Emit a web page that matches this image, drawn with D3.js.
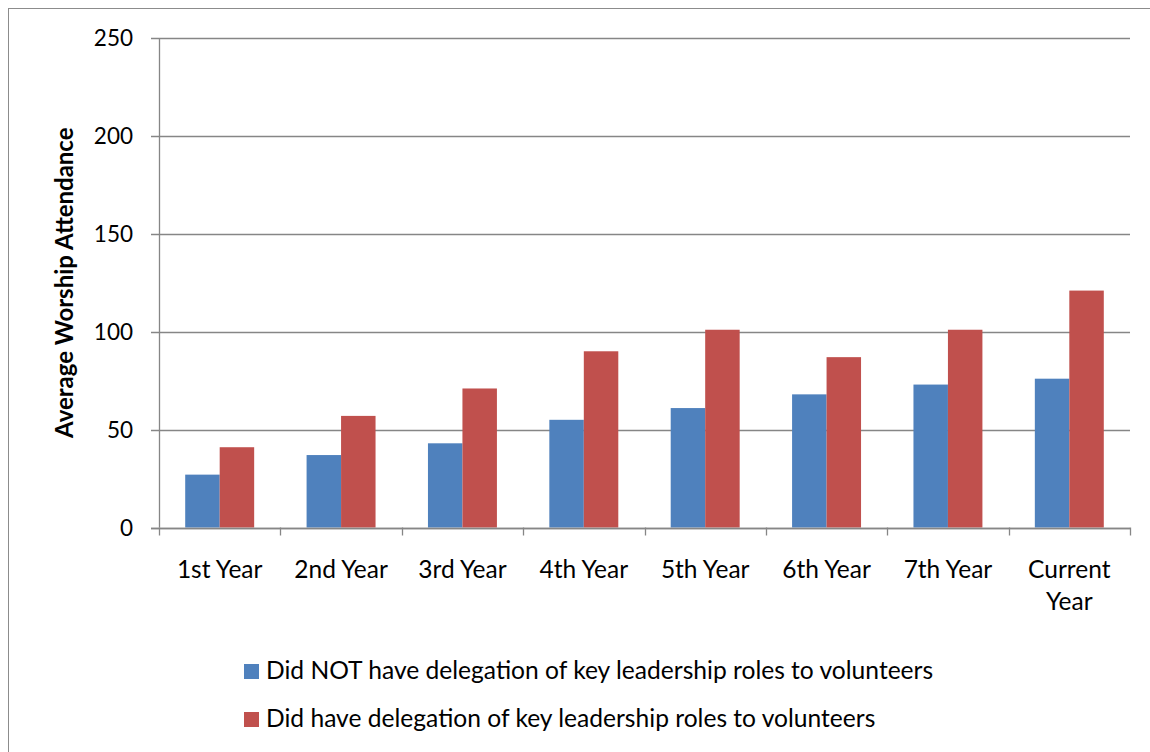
<!DOCTYPE html>
<html><head><meta charset="utf-8">
<script src="https://cdn.jsdelivr.net/npm/d3@7"></script>
<style>body{margin:0;background:#fff}svg{display:block}</style>
</head><body>
<svg id="c" width="1150" height="752"></svg>
<script>
const categories = ["1st Year","2nd Year","3rd Year","4th Year","5th Year","6th Year","7th Year","Current Year"];
const seriesNames = ["Did NOT have delegation of key leadership roles to volunteers","Did have delegation of key leadership roles to volunteers"];
const notDelegated = [27,37,43,55,61,68,73,76];
const delegated = [41,57,71,90,101,87,101,121];
const yTicks = [0,50,100,150,200,250];
const yTitle = "Average Worship Attendance";

const colors = ["#4F81BD","#C0504D"];
const FONT = "Lato, 'Open Sans', sans-serif";
const svg = d3.select("#c");
const L = 159, R = 1130, T = 38, B = 527.5;

svg.append("rect").attr("x",8.5).attr("y",8.5).attr("width",1200).attr("height",800)
  .attr("fill","#fff").attr("stroke","#8c8c8c").attr("stroke-width",1);

const x = d3.scaleBand().domain(categories).range([L,R]).paddingInner(0).paddingOuter(0);
const xs = d3.scaleBand().domain([0,1]).range([0,x.bandwidth()]).paddingInner(0).paddingOuter(0.76);
const y = d3.scaleLinear().domain([0,250]).range([B,T]);

// gridlines
svg.append("g").selectAll("line").data(yTicks).join("line")
  .attr("x1",151).attr("x2",R).attr("y1",d=>Math.round(y(d))+0.5).attr("y2",d=>Math.round(y(d))+0.5)
  .attr("stroke","#868686").attr("stroke-width",1.3);

// y axis labels
svg.append("g").selectAll("text").data(yTicks).join("text")
  .attr("x",133).attr("y",d=>y(d)).attr("dy","0.36em").attr("text-anchor","end")
  .attr("font-family",FONT).attr("font-size",22.5).attr("fill","#000").text(d=>d);

// bars
const data = categories.map((c,i)=>({c, v:[notDelegated[i], delegated[i]]}));
const g = svg.append("g");
data.forEach(d=>{
  d.v.forEach((v,s)=>{
    g.append("rect").attr("x",x(d.c)+xs(s)).attr("width",xs.bandwidth())
      .attr("y",y(v)).attr("height",B-y(v)).attr("fill",colors[s]);
  });
});

// axes lines
svg.append("line").attr("x1",L+0.5).attr("x2",L+0.5).attr("y1",T).attr("y2",B).attr("stroke","#868686").attr("stroke-width",1.3);
svg.append("line").attr("x1",151).attr("x2",R).attr("y1",Math.round(B)+0.5).attr("y2",Math.round(B)+0.5).attr("stroke","#868686").attr("stroke-width",1.3);
const bounds = categories.map(c=>x(c)).concat([R]);
svg.append("g").selectAll("line").data(bounds).join("line")
  .attr("x1",d=>Math.round(d)+0.5).attr("x2",d=>Math.round(d)+0.5).attr("y1",B).attr("y2",B+8)
  .attr("stroke","#868686").attr("stroke-width",1.3);

// x labels with wrapping
const xl = svg.append("g").attr("font-family",FONT).attr("font-size",24.5).attr("fill","#000");
categories.forEach(c=>{
  const t = xl.append("text").attr("x",x(c)+x.bandwidth()/2).attr("y",578).attr("text-anchor","middle").text(c);
  if (t.node().getComputedTextLength() > x.bandwidth()-8) {
    const words = c.split(" ");
    t.text(null);
    words.forEach((w,i)=>t.append("tspan").attr("x",x(c)+x.bandwidth()/2).attr("dy", i? 32:0).text(w));
  }
});

// y title
svg.append("text").attr("transform",`translate(73,${(T+B)/2}) rotate(-90)`).attr("text-anchor","middle")
  .attr("font-family",FONT).attr("font-weight","bold").attr("font-size",24).text(yTitle);

// legend
const lg = svg.append("g");
seriesNames.forEach((n,i)=>{
  const yy = 664 + i*48;
  lg.append("rect").attr("x",244).attr("y",yy).attr("width",15).attr("height",15).attr("fill",colors[i]);
  lg.append("text").attr("x",266).attr("y",yy+14.5).attr("font-family",FONT).attr("font-size",24.6).text(n);
});
</script>
</body></html>
